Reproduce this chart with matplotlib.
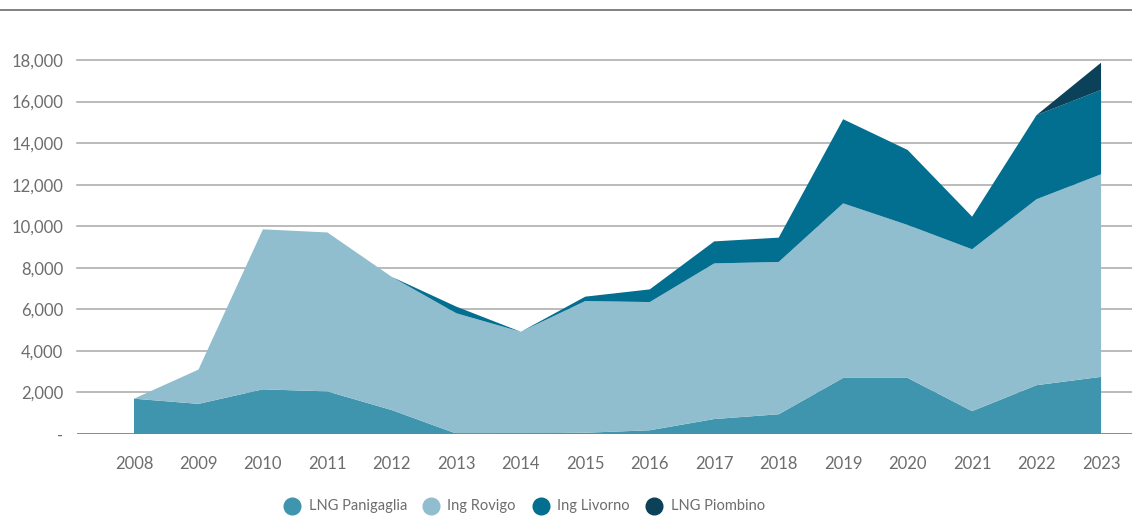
import matplotlib.pyplot as plt
from matplotlib.lines import Line2D
import numpy as np

plt.rcParams['font.family'] = ['Lato', 'DejaVu Sans']

# LNG volumes by terminal, 2008-2023
years = list(range(2008, 2024))
panigaglia = [1700, 1450, 2150, 2050, 1150, 20, 30, 60, 180, 720, 950, 2700, 2700, 1100, 2350, 2750]
rovigo = [0, 1650, 7700, 7650, 6410, 5790, 4890, 6340, 6170, 7490, 7330, 8400, 7360, 7790, 8950, 9750]
livorno = [0, 0, 0, 0, 0, 320, 0, 210, 610, 1060, 1170, 4050, 3610, 1570, 4050, 4060]
piombino = [0, 0, 0, 0, 0, 0, 0, 0, 0, 0, 0, 0, 0, 0, 0, 1310]

names = ['LNG Panigaglia', 'Ing Rovigo', 'Ing Livorno', 'LNG Piombino']
colors = ['#3f95ae', '#90bece', '#026e90', '#0b4259']
text_col = '#6d6d6d'

W, H = 1132, 519
fig = plt.figure(figsize=(W / 100, H / 100), dpi=100)
ax = fig.add_axes([77/W, 1 - 434/H, 1055/W, 374/H])

ax.stackplot(years, panigaglia, rovigo, livorno, piombino, colors=colors,
             linewidth=0, zorder=2)

ax.set_xlim(2007.116, 2023.48)
ax.set_ylim(0, 18000)
yt = np.arange(0, 18001, 2000)
ax.set_yticks(yt)
ax.set_yticklabels(['-'] + ['{:,}'.format(v) for v in yt[1:]])
ax.set_xticks(years)
ax.set_xticklabels([str(y) for y in years])

for v in yt[1:]:
    ax.axhline(v, color='#a8a8a8', lw=1.1, zorder=1, clip_on=False)
ax.axhline(0, color='#808080', lw=2, zorder=3)

for s in ax.spines.values():
    s.set_visible(False)
ax.tick_params(axis='both', length=0, labelsize=12, colors=text_col)
ax.tick_params(axis='y', pad=10)
ax.tick_params(axis='x', pad=16)

# rule across the top of the figure
fig.add_artist(Line2D([0, 1], [1 - 10/H, 1 - 10/H], color='#777777', lw=1.3))

# legend: coloured dots with labels underneath the chart
dot_x = [292, 431, 541, 654]
label_x = [309, 447, 557, 671]
leg_y = 1 - 506/H
for c, name, dx, lx in zip(colors, names, dot_x, label_x):
    fig.add_artist(Line2D([dx / W], [leg_y], marker='o', ls='', markersize=12,
                          markerfacecolor=c, markeredgecolor=c))
    fig.text(lx / W, leg_y, name, ha='left', va='center', fontsize=10.5,
             color=text_col)

fig.savefig('out.png', dpi=100)
